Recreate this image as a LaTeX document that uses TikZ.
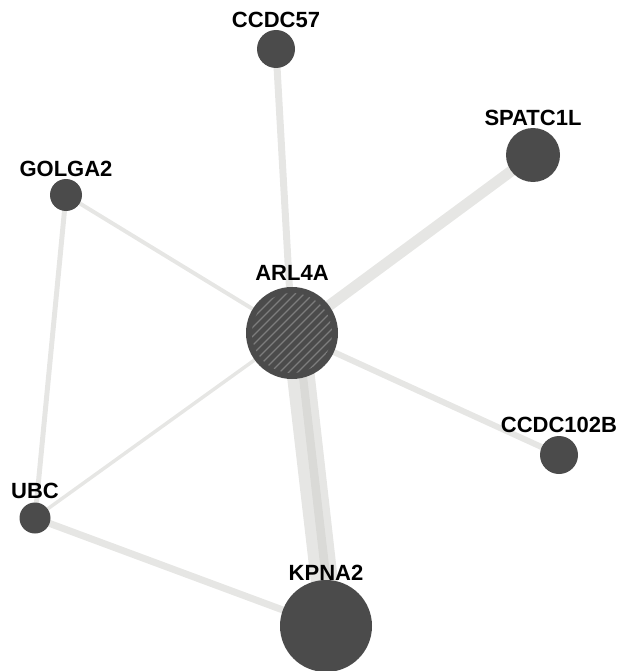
\documentclass[tikz,border=0pt]{standalone}
\usepackage{fontspec}
\setmainfont{Liberation Sans}
\usetikzlibrary{backgrounds}

\begin{document}
\begin{tikzpicture}[
        x = 1pt,
        y = -1pt
    ]

        \definecolor{protein}{RGB}{75,75,75}
        \definecolor{hatchline}{RGB}{125,125,125}
        \definecolor{interaction}{RGB}{206,206,202}

        \tikzset{%
            protein/.style = {%
                circle,
                fill       = protein,
                draw       = none,
                inner sep  = 0pt
            },
            genename/.style = {%
                font      = \bfseries\fontsize{22}{26}\selectfont,
                inner sep = 0pt
            },
            interaction/.style = {%
                draw          = interaction,
                draw opacity  = 0.5,
                line cap      = butt
            }
        }

        \useasboundingbox (0, 0) rectangle (621, 671);

        \foreach \name/\x/\y/\size/\gap in {%
            CCDC57/276/49/38/2,
            SPATC1L/533/155/54/2,
            GOLGA2/66/195/32/2,
            ARL4A/292/333/92/6,
            CCDC102B/559/455/38/3,
            UBC/35/518/31/3,
            KPNA2/326/626/92/-1
        } {
            \node[
                protein,
                minimum size = \size pt,
                label = {[genename, label distance = \gap pt]above:\name}
            ] (\name) at (\x, \y) {};
        }

        % Hatching of the query protein
        \begin{scope}
            \clip (ARL4A.center) circle (40);
            \foreach \d in {-90,-81,...,90} {
                \draw[hatchline, line width = 1.4pt, shift = {(ARL4A.center)}] (\d - 60, 60) -- ++(120, -120);
            }
        \end{scope}

        \begin{pgfonlayer}{background}
            \draw[interaction, line width = 7pt] (ARL4A.center) -- (CCDC57.center);
            \draw[interaction, line width = 11pt] (ARL4A.center) -- (SPATC1L.center);
            \draw[interaction, line width = 4pt] (ARL4A.center) -- (GOLGA2.center);
            \draw[interaction, line width = 6pt] (ARL4A.center) -- (CCDC102B.center);
            \draw[interaction, line width = 3.5pt] (ARL4A.center) -- (UBC.center);
            \draw[interaction, line width = 20pt] (ARL4A.center) -- (KPNA2.center);
            \draw[interaction, line width = 16pt] ([xshift = 10pt]ARL4A.center) -- ([xshift = 9pt]KPNA2.center);
            \draw[interaction, line width = 5pt] (GOLGA2.center) -- (UBC.center);
            \draw[interaction, line width = 7pt] (UBC.center) -- (KPNA2.center);
        \end{pgfonlayer}

    \end{tikzpicture}
\end{document}
